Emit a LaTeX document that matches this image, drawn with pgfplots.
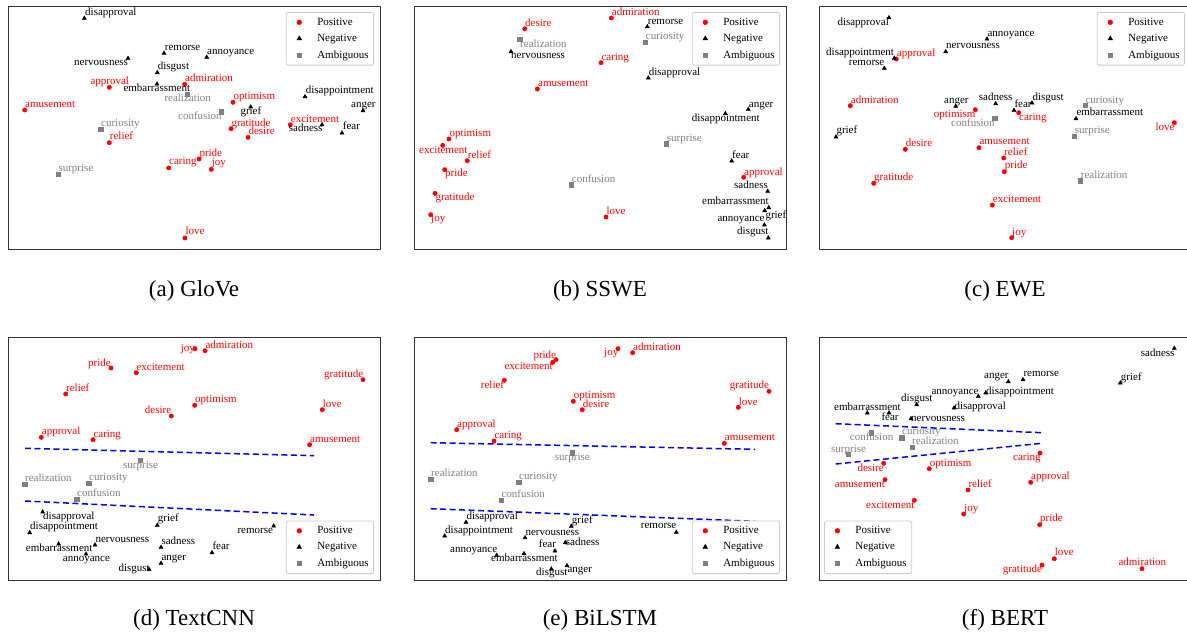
\documentclass[border=0pt]{standalone}
\usepackage{fontspec}
\setmainfont{Liberation Serif}
\usepackage{pgfplots}
\usepackage{pgfplotstable}
\pgfplotsset{compat=1.18}
\newcommand{\lblfont}{\fontsize{11}{13}\selectfont}
\definecolor{ambgray}{RGB}{128,128,128}
\pgfplotsset{
  emo/.style={scale only axis, width=372pt, height=243pt, y dir=reverse,
    xtick=\empty, ytick=\empty, clip=false,
    axis line style={draw=black!80, line width=0.9pt},
    legend cell align=left,
    legend style={font=\lblfont, draw=black!20, line width=0.8pt, rounded corners=2pt,
      inner xsep=3pt, inner ysep=3.5pt, row sep=3.5pt, nodes={inner sep=2pt}},
    legend image code/.code={\path[draw=none, fill=none] (0pt,-2pt) rectangle (26pt,2pt); \draw[##1] plot coordinates {(10pt,0pt)};}},
  lbl/.style={draw=none, mark=none, forget plot, nodes near coords, point meta=explicit symbolic,
    nodes near coords style={anchor=base west, inner sep=0pt, font=\lblfont, text=#1}},
  sep/.style={blue, dashed, line width=1.5pt, dash pattern=on 6pt off 3.5pt, forget plot},
}
\newcommand{\emoplots}[3]{%
  \addplot[only marks, mark=*, mark size=2.2pt, color=red] table[x=x,y=y]{#1};
  \addlegendentry{Positive}
  \addplot[only marks, mark=triangle*, mark size=2.4pt, color=black] table[x=x,y=y]{#2};
  \addlegendentry{Negative}
  \addplot[only marks, mark=square*, mark size=2.1pt, color=ambgray] table[x=x,y=y]{#3};
  \addlegendentry{Ambiguous}
  \addplot[lbl=red] table[x=lx,y=ly,meta=name]{#1};
  \addplot[lbl=black] table[x=lx,y=ly,meta=name]{#2};
  \addplot[lbl=ambgray] table[x=lx,y=ly,meta=name]{#3};
}

% ---------------- (a) GloVe
\pgfplotstableread{
name x y lx ly
approval 109.3 87.3 90.3 84.7
admiration 184.7 84.3 185 81.7
amusement 24.7 110 25 107.3
optimism 233 102.3 233.3 99.3
excitement 290.3 124.7 290.7 122
gratitude 231 128.7 231.3 126
desire 248 137.3 248.3 134
relief 109.3 142.7 109.7 139.3
pride 199 159 199.3 156
caring 168.7 168 169 164.7
joy 211.3 169.3 211.7 165.7
love 185 238 185.3 234.7
}\tAp
\pgfplotstableread{
name x y lx ly
disapproval 84.3 18.3 85 15.7
remorse 164 53.3 164.7 50.7
annoyance 206.7 57.3 207 54.3
nervousness 128 58.3 74 65.7
disgust 157.3 72.7 157.7 69.3
embarrassment 157 84 123.3 91.3
grief 250.7 107 240.3 114.3
disappointment 305 96.7 305.7 93.3
anger 363 110.7 351 107.3
sadness 322 124.7 288.7 131.3
fear 342 133 342.7 129.3
}\tAn
\pgfplotstableread{
name x y lx ly
realization 187.3 94.3 164.3 101.7
confusion 221.3 111.7 178 119
curiosity 100.7 129.3 101 126.7
surprise 58 174 58.3 171.3
}\tAa

% ---------------- (b) SSWE
\pgfplotstableread{
name x y lx ly
admiration 611.3 18 611.7 15.7
desire 524.7 28.7 525 26.3
caring 601 62.7 601.3 60.3
amusement 537.3 89 538 86
optimism 449 139 449.3 136.3
excitement 442.7 145.3 419 153.3
relief 467.3 160.7 467.7 158
pride 444.7 169.7 445 176.7
approval 743.7 177.3 744 175
gratitude 435 193.3 435.3 200
joy 430.7 214.7 431 221.7
love 606 217 606.3 214.3
}\tBp
\pgfplotstableread{
name x y lx ly
remorse 647.3 26.7 647.7 24.3
nervousness 511 51.7 511 58.7
disapproval 648.3 78 648.7 75.3
anger 748.3 109.3 748.7 107
disappointment 725.3 113.7 691.7 121.3
fear 731.7 161 732 158
sadness 767.7 191.3 734 188.3
embarrassment 768.7 207.7 702 204.7
grief 764.7 210.7 765.3 218.7
annoyance 764.3 225 717.3 221.3
disgust 768.3 238 737 234.7
}\tBn
\pgfplotstableread{
name x y lx ly
curiosity 645.3 42 645.7 39
realization 519.7 39.3 520 47.3
surprise 666.3 143.7 666.7 141.3
confusion 571.3 184.7 571.7 182.3
}\tBa

% ---------------- (c) EWE
\pgfplotstableread{
name x y lx ly
approval 896.3 59 896.7 56.7
admiration 850.3 105.7 850.7 103
optimism 975.3 109.7 933.7 117.3
caring 1018.7 112.7 1019 120.3
love 1174.3 122.7 1155.3 130
desire 905.3 149.3 905.7 146.7
amusement 979 147.7 979.3 144.7
relief 1003.7 158 1004 155
pride 1004.3 171.7 1004.7 168.3
gratitude 873.7 183.3 874 180.7
excitement 992.3 205 992.7 202.3
joy 1011.7 237.7 1012 235
}\tCp
\pgfplotstableread{
name x y lx ly
disapproval 889 17.7 837.3 25.7
annoyance 987 39 987.3 36
nervousness 945.7 51.7 946 48.7
disappointment 894.3 58.3 826 55.3
remorse 884.3 68.3 848.7 65.3
anger 955.7 106.3 944 103.7
sadness 995.7 103.7 978.7 100.7
fear 1014 110.3 1014.3 107.7
disgust 1032 103 1032.3 100
embarrassment 1076 118.7 1076.3 115.7
grief 836 137 836.3 133.3
}\tCn
\pgfplotstableread{
name x y lx ly
confusion 994.7 118.3 951 126
curiosity 1085 105.3 1085.3 103
surprise 1074.3 136.3 1074.7 133.3
realization 1080.3 180.7 1080.7 178
}\tCa

% ---------------- (d) TextCNN
\pgfplotstableread{
name x y lx ly
joy 195 348.7 180.7 351.7
admiration 205 350.7 205.3 348.7
pride 111 368 88 366
excitement 136.3 372.7 136.3 370
gratitude 363 379.7 324 377.3
relief 65.7 394 66 391.3
optimism 194.7 405.3 195 402.7
desire 171.3 416 144.7 413.7
love 322.3 409.7 322.7 407
approval 41.3 437.3 41.7 434.3
caring 93 439.7 93.3 437
amusement 309.7 444.7 310 442
}\tDp
\pgfplotstableread{
name x y lx ly
disapproval 42.7 512 43 519
disappointment 29.7 532.7 30 529
grief 157.3 525.3 157.7 521.7
remorse 273.7 526 237.3 533
nervousness 95 545 95.3 542
embarrassment 58.7 544 25.7 551.7
sadness 161 547.3 161.3 544.7
fear 212 552.7 212.3 549.7
annoyance 86 554 62.7 561.3
anger 161 563.3 161.3 560.3
disgust 149 569.3 118.3 571.7
}\tDn
\pgfplotstableread{
name x y lx ly
surprise 140.3 460.3 123 468
realization 24.7 484 25 481.3
curiosity 88.7 483.3 89 480.7
confusion 76.7 499 77 496.7
}\tDa

% ---------------- (e) BiLSTM
\pgfplotstableread{
name x y lx ly
joy 618 348.7 604 355.3
admiration 632.7 352.7 633 350.3
pride 556 359.7 533.3 358
excitement 552.7 362.3 504.3 369.7
relief 504.3 380.3 480.7 388
optimism 573.3 401.3 573.7 398.7
desire 582.3 409.7 582.7 407
gratitude 769 391.3 729.7 388.7
love 738.3 407.3 738.7 405
approval 456.7 429.7 457 427
caring 494 441 494.3 438.3
amusement 724.3 443.3 724.7 440.7
}\tEp
\pgfplotstableread{
name x y lx ly
disapproval 466 522.3 466.3 519.3
disappointment 444.7 536 445 533
grief 571.3 526.3 571.7 523
remorse 676.3 532.3 640.7 528.7
nervousness 525 537.7 525.3 535
sadness 565.3 542.7 565.7 545
fear 555 551 538.7 547.7
annoyance 496.7 555.3 450 552.7
embarrassment 524 553.7 491 561.3
anger 567 565.7 567.3 572.3
disgust 551.3 569 536 575.7
}\tEn
\pgfplotstableread{
name x y lx ly
surprise 572 452.7 554.7 460.3
realization 430.7 479.3 431 476.7
curiosity 518.7 482.3 519 479.7
confusion 501 500 501.3 497.7
}\tEa

% ---------------- (f) BERT
\pgfplotstableread{
name x y lx ly
caring 1040 453 1013 460
desire 883.7 463.3 857.3 471
optimism 929.3 468.7 929.7 466
amusement 885 479.7 834.7 487.3
approval 1030.7 482.3 1031 479.7
relief 968 490 968.3 487
excitement 914.3 500.3 866 508
joy 963.7 514 964 511
pride 1039.7 524.7 1040 521.3
love 1054.3 558.7 1054.7 555.7
gratitude 1042 565 1002.7 572.3
admiration 1142 568.7 1118.3 565.7
}\tFp
\pgfplotstableread{
name x y lx ly
sadness 1174.3 348.3 1140.7 356.7
anger 1008.3 381.7 984 378.3
remorse 1023 379.7 1023.3 376.7
grief 1120.3 383 1120.7 380
annoyance 978.3 396.3 931.3 394
disappointment 985.7 393 986 394.7
disgust 916.7 404.7 901 401.7
disapproval 954 408 954.3 409.3
embarrassment 867.3 413 834 410.3
fear 889 413 881.3 420.7
nervousness 911 418.7 911 421.3
}\tFn
\pgfplotstableread{
name x y lx ly
confusion 871 432.7 849.7 440.3
curiosity 901.7 437.7 902 434
realization 912 447 912 444.3
surprise 848.3 454.3 831 452
}\tFa

\begin{document}
\begin{tikzpicture}[x=1pt,y=1pt]
\useasboundingbox (0,0) rectangle (1187,-632);

\begin{axis}[emo, at={(8pt,-249pt)}, anchor=south west, xmin=8, xmax=380, ymin=6, ymax=249,
  legend style={at={(1,1)}, anchor=north east, xshift=-6pt, yshift=-6pt}]
\emoplots{\tAp}{\tAn}{\tAa}
\end{axis}

\begin{axis}[emo, at={(414pt,-249pt)}, anchor=south west, xmin=414, xmax=786, ymin=6, ymax=249,
  legend style={at={(1,1)}, anchor=north east, xshift=-6pt, yshift=-6pt}]
\emoplots{\tBp}{\tBn}{\tBa}
\end{axis}

\begin{axis}[emo, at={(819pt,-249pt)}, anchor=south west, xmin=819, xmax=1191, ymin=6, ymax=249,
  legend style={at={(1,1)}, anchor=north east, xshift=-6pt, yshift=-6pt}]
\emoplots{\tCp}{\tCn}{\tCa}
\end{axis}

\begin{axis}[emo, at={(8pt,-580pt)}, anchor=south west, xmin=8, xmax=380, ymin=337, ymax=580,
  legend style={at={(1,0)}, anchor=south east, xshift=-6pt, yshift=6pt}]
\emoplots{\tDp}{\tDn}{\tDa}
\addplot[sep] coordinates {(25,448.3) (314,455.7)};
\addplot[sep] coordinates {(25,501) (314,515)};
\end{axis}

\begin{axis}[emo, at={(414pt,-580pt)}, anchor=south west, xmin=414, xmax=786, ymin=337, ymax=580,
  legend style={at={(1,0)}, anchor=south east, xshift=-6pt, yshift=6pt}]
\emoplots{\tEp}{\tEn}{\tEa}
\addplot[sep] coordinates {(430.7,442.7) (755,449.3)};
\addplot[sep] coordinates {(430.7,508.7) (755,521.3)};
\end{axis}

\begin{axis}[emo, at={(819pt,-580pt)}, anchor=south west, xmin=819, xmax=1191, ymin=337, ymax=580,
  legend style={at={(0,0)}, anchor=south west, xshift=5pt, yshift=6pt}]
\emoplots{\tFp}{\tFn}{\tFa}
\addplot[sep] coordinates {(835.7,423.7) (1041.7,432.7)};
\addplot[sep] coordinates {(835.7,464) (1041.7,443.3)};
\end{axis}

\begin{scope}[font=\fontsize{23}{27}\selectfont]
\node[anchor=base, inner sep=0pt] at (194,-296) {(a) GloVe};
\node[anchor=base, inner sep=0pt] at (600,-296) {(b) SSWE};
\node[anchor=base, inner sep=0pt] at (1005,-296) {(c) EWE};
\node[anchor=base, inner sep=0pt] at (194,-625) {(d) TextCNN};
\node[anchor=base, inner sep=0pt] at (600,-625) {(e) BiLSTM};
\node[anchor=base, inner sep=0pt] at (1005,-625) {(f) BERT};
\end{scope}
\end{tikzpicture}
\end{document}
